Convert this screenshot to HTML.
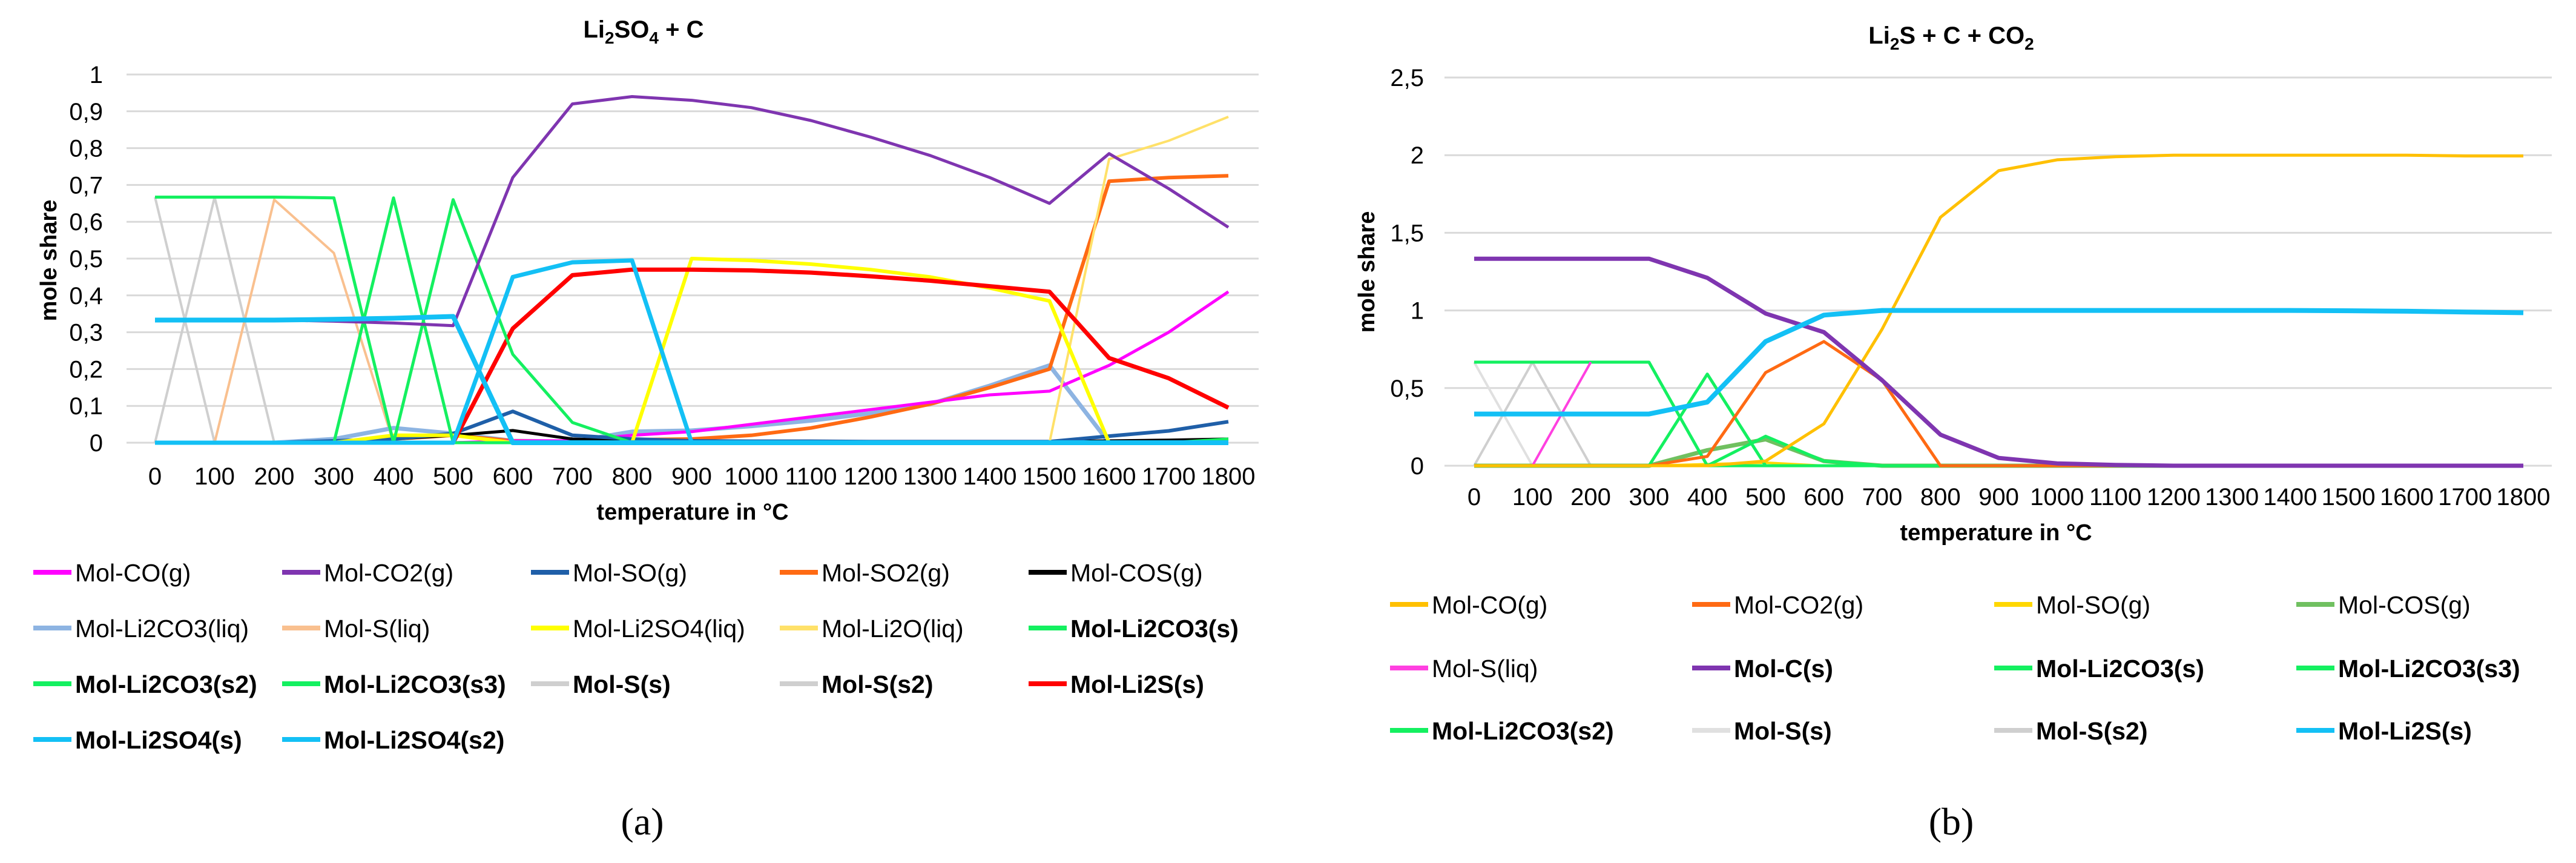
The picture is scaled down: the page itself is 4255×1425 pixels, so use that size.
<!DOCTYPE html>
<html><head><meta charset="utf-8"><style>
html,body{margin:0;padding:0;background:#fff;}
svg{display:block;}
text{font-family:"Liberation Sans",Arial,sans-serif;fill:#000;}
</style></head><body>
<svg id="fig" width="4255" height="1425" viewBox="0 0 4255 1425" xmlns="http://www.w3.org/2000/svg">
<g id="chartA"></g>
<g id="chartB"></g>
<text x="1061" y="1378" font-size="64" text-anchor="middle" style="font-family:'Liberation Serif',serif">(a)</text>
<text x="3223" y="1378" font-size="64" text-anchor="middle" style="font-family:'Liberation Serif',serif">(b)</text>
</svg>
<script>
const NS='http://www.w3.org/2000/svg';
const temps=[0,100,200,300,400,500,600,700,800,900,1000,1100,1200,1300,1400,1500,1600,1700,1800];
// ---- Chart A data ----
const aTicks=[0,0.1,0.2,0.3,0.4,0.5,0.6,0.7,0.8,0.9,1];
const aTickLabels=['0','0,1','0,2','0,3','0,4','0,5','0,6','0,7','0,8','0,9','1'];
const aNames=['Mol-CO(g)','Mol-CO2(g)','Mol-SO(g)','Mol-SO2(g)','Mol-COS(g)','Mol-Li2CO3(liq)','Mol-S(liq)','Mol-Li2SO4(liq)','Mol-Li2O(liq)','Mol-Li2CO3(s)','Mol-Li2CO3(s2)','Mol-Li2CO3(s3)','Mol-S(s)','Mol-S(s2)','Mol-Li2S(s)','Mol-Li2SO4(s)','Mol-Li2SO4(s2)'];
const aColors=['#ff00ff','#7f35b0','#1f5fa8','#ff6a13','#000000','#8db4e2','#f9c08f','#ffff00','#ffe169','#14f060','#14f060','#14f060','#cfcfcf','#cfcfcf','#ff0000','#13c0f5','#13c0f5'];
const aWidths=[5,5,6,6,5,7,4,6,4,5,5,5,4,4,7,8,7];
const aBold=[0,0,0,0,0,0,0,0,0,1,1,1,1,1,1,1,1];
const aCO=[0,0,0,0,0,0,0.005,0.005,0.02,0.03,0.05,0.07,0.09,0.11,0.13,0.14,0.21,0.3,0.41];
const aCO2=[0.333,0.333,0.333,0.33,0.325,0.318,0.72,0.92,0.94,0.93,0.91,0.875,0.83,0.78,0.72,0.65,0.785,0.69,0.585];
const aSO=[0,0,0,0.005,0.01,0.025,0.085,0.02,0.01,0.005,0.004,0.004,0.003,0.003,0.003,0.003,0.018,0.032,0.057];
const aSO2=[0,0,0,0,0.01,0.02,0.005,0.003,0.008,0.01,0.02,0.04,0.07,0.105,0.15,0.2,0.71,0.72,0.725];
const aCOS=[0,0,0,0.003,0.01,0.02,0.033,0.01,0.005,0.003,0.003,0.003,0.003,0.003,0.003,0.003,0.005,0.007,0.01];
const aLi2CO3liq=[0,0,0,0.01,0.04,0.025,0.005,0.003,0.03,0.033,0.045,0.06,0.08,0.105,0.155,0.21,0,0,0];
const aSliq=[0,0,0.66,0.515,0,0,0,0,0,0,0,0,0,0,0,0,0,0,0];
const aLi2SO4liq=[0,0,0,0,0.02,0.02,0,0,0,0.5,0.495,0.485,0.47,0.45,0.42,0.385,0,0,0];
const aLi2Oliq=[0,0,0,0,0,0,0,0,0,0,0,0,0,0,0,0,0.77,0.82,0.885];
const aLi2CO3s=[0.667,0.667,0.667,0.665,0,0,0,0,0,0,0,0,0,0,0,0,0,0,0];
const aLi2CO3s2=[0,0,0,0,0.665,0,0,0,0,0,0,0,0,0,0,0,0,0,0];
const aLi2CO3s3=[0,0,0,0,0,0.66,0.24,0.055,0,0,0,0,0,0,0,0,0,0,0.01];
const aSs=[0.667,0,0,0,0,0,0,0,0,0,0,0,0,0,0,0,0,0,0];
const aSs2=[0,0.667,0,0,0,0,0,0,0,0,0,0,0,0,0,0,0,0,0];
const aLi2S=[0,0,0,0,0,0,0.31,0.455,0.47,0.47,0.468,0.462,0.452,0.44,0.425,0.41,0.23,0.175,0.095];
const aLi2SO4s=[0.333,0.333,0.333,0.335,0.338,0.343,0,0,0,0,0,0,0,0,0,0,0,0,0];
const aLi2SO4s2=[0,0,0,0,0,0,0.45,0.49,0.495,0,0,0,0,0,0,0,0,0,0];
const aSeries=[aCO,aCO2,aSO,aSO2,aCOS,aLi2CO3liq,aSliq,aLi2SO4liq,aLi2Oliq,aLi2CO3s,aLi2CO3s2,aLi2CO3s3,aSs,aSs2,aLi2S,aLi2SO4s,aLi2SO4s2];
const aDrawOrder=[12,13,6,5,3,0,4,2,8,7,14,9,10,11,1,15,16];
// ---- Chart B data ----
const bTicks=[0,0.5,1,1.5,2,2.5];
const bTickLabels=['0','0,5','1','1,5','2','2,5'];
const bNames=['Mol-CO(g)','Mol-CO2(g)','Mol-SO(g)','Mol-COS(g)','Mol-S(liq)','Mol-C(s)','Mol-Li2CO3(s)','Mol-Li2CO3(s3)','Mol-Li2CO3(s2)','Mol-S(s)','Mol-S(s2)','Mol-Li2S(s)'];
const bColors=['#ffc000','#ff6a13','#ffd700','#70c060','#ff40e0','#7f35b0','#14f060','#14f060','#14f060','#e0e0e0','#cfcfcf','#13c0f5'];
const bWidths=[5,5,4,7,4,7,5,5,5,4,4,8];
const bBold=[0,0,0,0,0,1,1,1,1,1,1,1];
const bCO=[0,0,0,0,0,0.03,0.27,0.88,1.6,1.9,1.97,1.99,2.0,2.0,2.0,2.0,2.0,1.995,1.995];
const bCO2=[0,0,0,0,0.06,0.6,0.8,0.55,0,0,0,0,0,0,0,0,0,0,0];
const bSO=[0,0,0,0,0.01,0.02,0,0,0,0,0,0,0,0,0,0,0,0,0];
const bCOS=[0,0,0,0,0.1,0.17,0.03,0,0,0,0,0,0,0,0,0,0,0,0];
const bSliq=[null,0,0.667,null,null,null,null,null,null,null,null,null,null,null,null,null,null,null,null];
const bC=[1.333,1.333,1.333,1.333,1.21,0.98,0.86,0.55,0.2,0.05,0.015,0.005,0,0,0,0,0,0,0];
const bLi2CO3s=[0.667,0.667,0.667,0.667,0,0,0,0,0,0,0,0,0,0,0,0,0,0,0];
const bLi2CO3s3=[0,0,0,0,0.59,0,0,0,0,0,0,0,0,0,0,0,0,0,0];
const bLi2CO3s2=[0,0,0,0,0,0.19,0.03,0,0,0,0,0,0,0,0,0,0,0,0];
const bSs=[0.667,0,0,0,0,0,0,0,0,0,0,0,0,0,0,0,0,0,0];
const bSs2=[0,0.667,0,0,0,0,0,0,0,0,0,0,0,0,0,0,0,0,0];
const bLi2S=[0.333,0.333,0.333,0.333,0.41,0.8,0.97,1.0,1.0,1.0,1.0,1.0,1.0,1.0,1.0,0.998,0.995,0.99,0.985];
const bSeries=[bCO,bCO2,bSO,bCOS,bSliq,bC,bLi2CO3s,bLi2CO3s3,bLi2CO3s2,bSs,bSs2,bLi2S];
const bDrawOrder=[9,10,2,3,8,6,7,4,1,0,5,11];

function el(tag,attrs,parent,txt){const e=document.createElementNS(NS,tag);for(const k in attrs)e.setAttribute(k,attrs[k]);if(txt!==undefined)e.textContent=txt;parent.appendChild(e);return e;}

function drawChart(g,cfg){
  const xs=t=>cfg.x0+(t-temps[0])/(temps[temps.length-1]-temps[0])*(cfg.x1-cfg.x0);
  const ys=v=>cfg.y0-(v/cfg.ymax)*(cfg.y0-cfg.ytop);
  cfg.ticks.forEach((v,i)=>{
    const l=el('line',{x1:cfg.gx0,x2:cfg.gx1,y1:ys(v),y2:ys(v),stroke:'#d9d9d9','stroke-width':3},g);
    
    
    const t=el('text',{x:cfg.tickRight,y:ys(v)+14,'font-size':40,'text-anchor':'end'},g,cfg.tickLabels[i]);
    
    
  });
  temps.forEach(tp=>{
    const t=el('text',{x:xs(tp),y:cfg.xlabY,'font-size':40,'text-anchor':'middle'},g,String(tp));
    
    
  });
  cfg.order.forEach(i=>{
    const vals=cfg.series[i];let d='';let pen=false;
    vals.forEach((v,j)=>{if(v===null){pen=false;return;}d+=(pen?'L':'M')+xs(temps[j]).toFixed(1)+' '+ys(v).toFixed(1)+' ';pen=true;});
    const p=el('path',{d:d,fill:'none',stroke:cfg.colors[i],'stroke-width':cfg.widths[i],'stroke-linejoin':'round'},g);
    
    
  });
  const title=el('text',{x:cfg.titleX,y:cfg.titleY,'font-size':40,'font-weight':'bold','text-anchor':'middle'},g);
  
  
  cfg.title.forEach(([s,sub])=>{const ts=el('tspan',sub?{'font-size':28,dy:10}:{dy:cfg._sub?-10:0},title,s);cfg._sub=sub;});
  const yt=el('text',{x:0,y:0,'font-size':38,'font-weight':'bold','text-anchor':'middle',transform:`translate(${cfg.yTitleX},${cfg.yTitleY}) rotate(-90)`},g,'mole share');
  
  
  const xt=el('text',{x:cfg.xTitleX,y:cfg.xTitleY,'font-size':38,'font-weight':'bold','text-anchor':'middle'},g,'temperature in °C');
  
  
  cfg.names.forEach((n,i)=>{
    const c=i%cfg.legCols,r=Math.floor(i/cfg.legCols);
    const lx=cfg.legX0+c*cfg.legDX,ly=cfg.legRows[r];
    const lg=el('g',{},g);
    
    
    el('line',{x1:lx,x2:lx+63,y1:ly,y2:ly,stroke:cfg.colors[i],'stroke-width':8},lg);
    el('text',{x:lx+69,y:ly+15,'font-size':41,'font-weight':cfg.bold[i]?'bold':'normal'},lg,n);
  });
}
drawChart(document.getElementById('chartA'),{x0:256,x1:2029,y0:731,ytop:123,ymax:1,gx0:209,gx1:2079,ticks:aTicks,tickLabels:aTickLabels,tickRight:170,xlabY:800,series:aSeries,order:aDrawOrder,colors:aColors,widths:aWidths,names:aNames,bold:aBold,title:[['Li',0],['2',1],['SO',0],['4',1],[' + C',0]],titleX:1063,titleY:62,yTitleX:93,yTitleY:430,xTitleX:1144,xTitleY:858,legCols:5,legX0:55,legDX:411,legRows:[945,1037,1129,1221]});
drawChart(document.getElementById('chartB'),{x0:2435,x1:4168,y0:769,ytop:128,ymax:2.5,gx0:2386,gx1:4215,ticks:bTicks,tickLabels:bTickLabels,tickRight:2352,xlabY:834,series:bSeries,order:bDrawOrder,colors:bColors,widths:bWidths,names:bNames,bold:bBold,title:[['Li',0],['2',1],['S + C + CO',0],['2',1]],titleX:3223,titleY:72,yTitleX:2270,yTitleY:449,xTitleX:3297,xTitleY:892,legCols:4,legX0:2296,legDX:499,legRows:[998,1103,1206]});
</script>
</body></html>
